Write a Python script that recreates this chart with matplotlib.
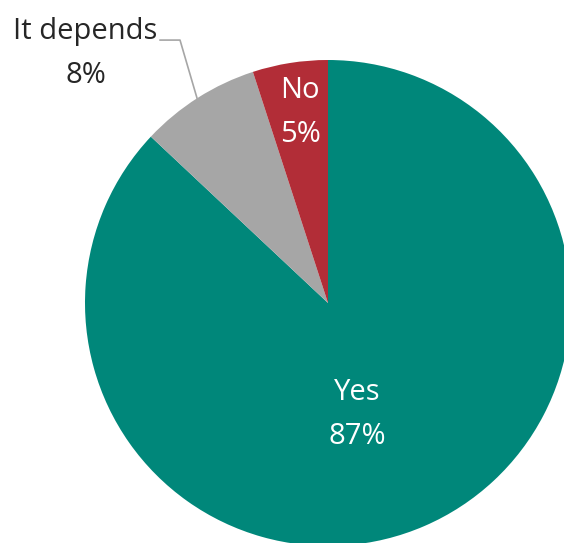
import matplotlib.pyplot as plt

labels = ['Yes', 'It depends', 'No']
shares = [87, 8, 5]
colors = ['#00877A', '#A6A6A6', '#B22D37']

plt.rcParams['font.family'] = ['Open Sans', 'DejaVu Sans']

fig = plt.figure(figsize=(5.64, 5.43), dpi=100)
ax = fig.add_axes([0.1507, -0.0055, 0.8617, 0.895])
ax.pie(shares, colors=colors, startangle=90, counterclock=False, radius=1,
       wedgeprops=dict(linewidth=0))
ax.set_xlim(-1, 1)
ax.set_ylim(-1, 1)
ax.set_aspect('auto')
ax.axis('off')

ax.text(0.119, -0.457, '%s\n%d%%' % (labels[0], shares[0]), ha='center', va='center',
        color='white', fontsize=21, linespacing=1.68)
ax.text(-0.115, 0.784, '%s\n%d%%' % (labels[2], shares[2]), ha='center', va='center',
        color='white', fontsize=21, linespacing=1.68)
ax.text(-0.998, 1.027, '%s\n%d%%' % (labels[1], shares[1]), ha='center', va='center',
        color='#262626', fontsize=21, linespacing=1.68, clip_on=False)
ax.plot([-0.691, -0.609, -0.539], [1.082, 1.082, 0.843], color='#A6A6A6',
        lw=1.2, clip_on=False)

fig.savefig('out.png', dpi=100)
